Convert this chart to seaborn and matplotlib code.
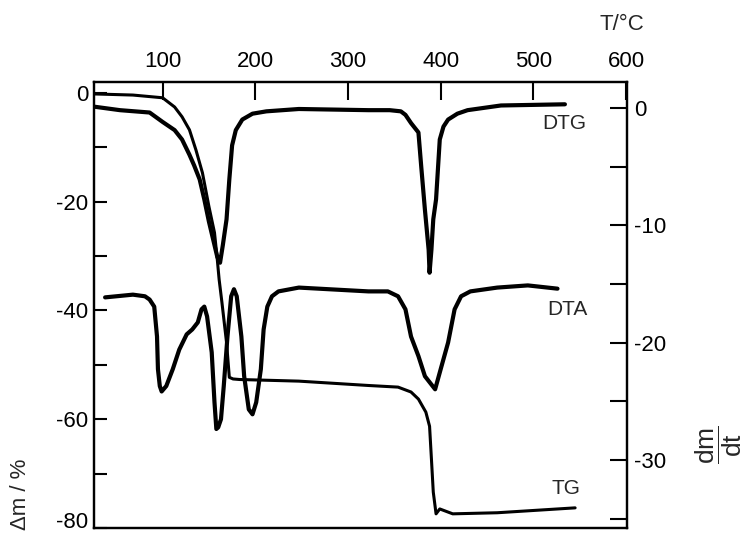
import matplotlib
matplotlib.use("Agg")
import matplotlib.pyplot as plt
import pandas as pd
import seaborn as sns

# TG curve: temperature (°C) vs mass change (%)
tg_t = [27, 68, 100, 113, 121, 129, 136, 143, 150, 156, 159, 161, 164, 169, 172,
        176, 183, 247, 322, 354, 368, 376, 384, 388, 390, 392, 395, 399, 413, 461, 545]
tg_m = [-0.2, -0.4, -0.9, -2.6, -4.4, -6.8, -10.5, -14.7, -20.9, -25.7, -30.6, -34.3,
        -38.5, -45.9, -52.3, -52.6, -52.7, -53.0, -53.8, -54.1, -55.0, -56.3, -58.7,
        -61.3, -67.3, -73.4, -77.4, -76.5, -77.4, -77.2, -76.3]

# DTG curve: temperature (°C) vs dm/dt
dtg_t = [26, 54, 86, 100, 113, 121, 129, 134, 140, 145, 150, 156, 159, 162, 165,
         169, 172, 175, 179, 186, 197, 212, 247, 322, 345, 357, 362, 368, 372, 376,
         379, 383, 387, 388, 390, 392, 395, 399, 403, 408, 418, 429, 465, 534]
dtg_d = [0.1, -0.2, -0.4, -1.2, -1.9, -2.7, -4.0, -4.9, -6.1, -7.8, -9.7, -11.7,
         -12.7, -13.2, -11.7, -9.5, -6.1, -3.2, -1.9, -1.0, -0.5, -0.3, -0.1, -0.2,
         -0.2, -0.3, -0.6, -1.3, -1.7, -2.1, -5.0, -8.7, -12.1, -14.05, -12.1, -9.5,
         -7.8, -2.7, -1.6, -1.0, -0.5, -0.2, 0.2, 0.3]

# DTA curve (drawn on the left scale)
dta_t = [38, 68, 81, 86, 91, 94, 95, 97, 99, 104, 111, 118, 126, 132, 138, 142,
         145, 148, 153, 156, 158, 160, 163, 166, 170, 174, 177, 180, 185, 188, 193,
         197, 201, 206, 209, 213, 218, 225, 247, 322, 343, 354, 362, 368, 376, 383,
         394, 400, 408, 415, 422, 432, 461, 494, 526]
dta_v = [-37.6, -37.1, -37.4, -38.0, -39.3, -44.8, -50.8, -53.9, -54.9, -53.9,
         -50.8, -47.2, -44.4, -43.5, -42.2, -39.8, -39.3, -41.1, -47.7, -56.9,
         -61.8, -61.5, -60.0, -53.9, -44.8, -37.4, -36.1, -37.4, -44.8, -52.1,
         -58.2, -59.1, -56.9, -50.8, -43.5, -39.3, -37.4, -36.5, -35.8, -36.5,
         -36.5, -37.4, -39.8, -44.8, -48.4, -52.1, -54.5, -50.8, -45.9, -39.8,
         -37.4, -36.5, -35.8, -35.4, -36.0]

top_ticks = [100, 200, 300, 400, 500, 600]
left_ticks = [0, -10, -20, -30, -40, -50, -60, -70, -80]
right_ticks = [0, -5, -10, -15, -20, -25, -30, -35]

sns.set_theme(style="ticks")
plt.rcParams["font.family"] = ["Liberation Sans", "DejaVu Sans"]
plt.rcParams["mathtext.fontset"] = "custom"
plt.rcParams["mathtext.rm"] = "Liberation Sans"

fig = plt.figure(figsize=(7.47, 5.37), dpi=100)
ax = fig.add_axes([0.1258, 0.0168, 0.7136, 0.8305])
ax2 = ax.twinx()

tg = pd.DataFrame({"T": tg_t, "m": tg_m})
dtg = pd.DataFrame({"T": dtg_t, "d": dtg_d})
dta = pd.DataFrame({"T": dta_t, "v": dta_v})

line_kw = dict(color="black", sort=False, estimator=None,
               solid_capstyle="round", solid_joinstyle="round")
sns.lineplot(data=dta, x="T", y="v", ax=ax, lw=3.0, **line_kw)
sns.lineplot(data=tg, x="T", y="m", ax=ax, lw=2.2, **line_kw)
sns.lineplot(data=dtg, x="T", y="d", ax=ax2, lw=3.0, **line_kw)

ax.set_xlim(26, 601)
ax.set_ylim(-80, 2)
ax2.set_ylim(-35.8, 2.2)

for a in (ax, ax2):
    for s in a.spines.values():
        s.set_visible(True)
        s.set_color("black")
        s.set_linewidth(1.6)

ax.xaxis.tick_top()
ax.set_xticks(top_ticks)
ax.set_xticklabels([str(t) for t in top_ticks])
ax.tick_params(axis="x", direction="in", length=13, width=1.5, pad=7,
               labelsize=16, colors="black", bottom=False, top=True)
ax.set_xlabel("")

ax.set_yticks(left_ticks)
ax.set_yticklabels([str(v) if v % 20 == 0 else "" for v in left_ticks])
ax.tick_params(axis="y", direction="in", length=9, width=1.5, pad=4,
               labelsize=16, colors="black", left=True)
ax.set_ylabel("")
# keep the bottom label inside the figure
for lab in ax.get_yticklabels():
    if lab.get_text() == "-80":
        lab.set_va("baseline")

ax2.set_yticks(right_ticks)
ax2.set_yticklabels([str(v) if v % 10 == 0 else "" for v in right_ticks])
ax2.tick_params(axis="y", direction="in", length=12, width=1.5, pad=5,
                labelsize=16, colors="black", right=True)
ax2.set_ylabel("")

# axis titles
fig.text(20 / 747, 1 - 494 / 537, "Δm / %", fontsize=16, rotation=90,
         ha="center", va="center")
fig.text(719 / 747, 1 - 445 / 537, r"$\dfrac{\mathrm{dm}}{\mathrm{dt}}$",
         fontsize=19, rotation=90, ha="center", va="center")
fig.text(622 / 747, 1 - 25 / 537, "T/°C", fontsize=16, ha="center", va="center")

# curve names
ax2.text(510, -1.3, "DTG", fontsize=15, va="center", ha="left")
ax.text(515, -39.8, "DTA", fontsize=15, va="center", ha="left")
ax.text(520, -72.8, "TG", fontsize=15, va="center", ha="left")

fig.savefig("out.png", dpi=100)
